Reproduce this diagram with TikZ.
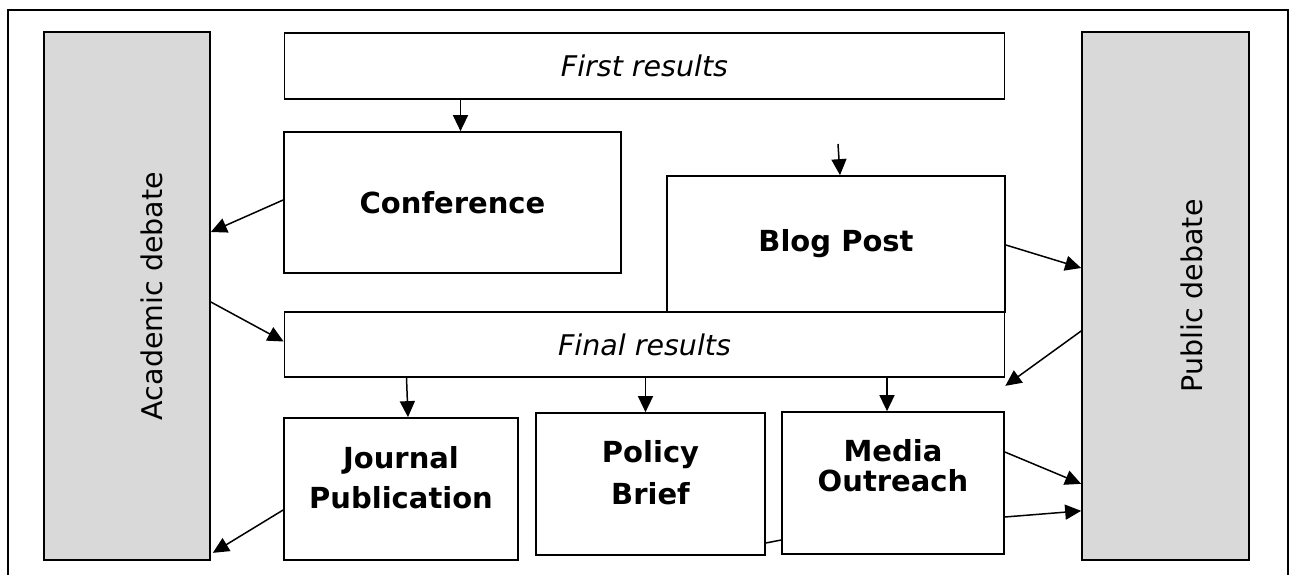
\documentclass[tikz,border=0pt]{standalone}
\usepackage{fontspec}
\setmainfont{DejaVu Sans}
\usetikzlibrary{arrows.meta}
\definecolor{debategray}{RGB}{217,217,217}

\begin{document}
\begin{tikzpicture}
      [%%%%%%%%%%%%%%%%%%%%%%%%%%%%%%
      x=1pt,y=-1pt,
      box/.style={rectangle,draw=black,line width=1.7pt,fill=white,inner sep=0pt},
      side/.style={box,fill=debategray},
      plaintxt/.style={font=\fontsize{28.5}{34}\selectfont,inner sep=0pt},
      boldtxt/.style={font=\fontsize{29}{34}\selectfont\bfseries,align=center,inner sep=0pt},
      slanttxt/.style={font=\fontsize{28.5}{34}\selectfont\itshape},
      arr/.style={line width=1.5pt,-{Triangle[length=16pt,width=15pt]}},
      ]%%%%%%%%%%%%%%%%%%%%%%%%%%%%%%
      \useasboundingbox (0,0) rectangle (1293,575);
      \draw[line width=1.6pt] (8,575) -- (8,10) -- (1288,10) -- (1288,575);

      \node[side,minimum width=166pt,minimum height=528pt] (acad) at (127,296) {};
      \node[side,minimum width=167pt,minimum height=528pt] (pub) at (1165.5,296) {};
      \node[plaintxt,rotate=90] (acadt) at ([xshift=25pt]acad.center) {Academic debate};
      \node[plaintxt,rotate=90] (pubt) at ([xshift=26pt]pub.center) {Public debate};

      \node[box,slanttxt,minimum width=720pt,minimum height=66pt] (first) at (644.5,66) {First results};
      \node[box,boldtxt,minimum width=337pt,minimum height=141pt] (conf) at (452.5,202.5) {Conference};
      \node[box,boldtxt,minimum width=338pt,minimum height=136pt] (blog) at (836,244) {Blog Post};
      \node[box,slanttxt,minimum width=720pt,minimum height=65pt] (final) at (644.5,344.5) {Final results};

      \node[box,minimum width=234pt,minimum height=142pt] (journ) at (401,489) {};
      \node[box,minimum width=229pt,minimum height=142pt] (policy) at (650.5,484) {};
      \node[box,minimum width=222pt,minimum height=142pt] (media) at (893,483) {};
      \node[boldtxt] (journt) at ([yshift=11pt]journ.center) {Journal\\[6pt]Publication};
      \node[boldtxt] (policyt) at ([yshift=11pt]policy.center) {Policy\\[8pt]Brief};
      \node[boldtxt] (mediat) at ([yshift=17.5pt]media.center) {Media\\[-4pt]Outreach};

      \coordinate (blogin) at (838,144);

      % \draw[arr] (first) -- (blog);
      \draw[arr] ([xshift=8pt]conf.north |- first.south) -- ([xshift=8pt]conf.north);
      \draw[arr] (blogin) -- ([xshift=4pt]blog.north);
      \draw[arr] ([yshift=2.5pt]conf.west) -- ([yshift=64pt]acad.east);
      \draw[arr] ([yshift=-6pt]acad.east) -- ([yshift=3pt]final.west);
      \draw[arr] ([yshift=-1pt]blog.east) -- ([yshift=28pt]pub.west);
      \draw[arr] ([yshift=-35pt]pub.west) -- ([yshift=-8pt]final.south east);
      \draw[arr] ([xshift=5.5pt]journ.north |- final.south) -- ([xshift=7pt]journ.north);
      \draw[arr] ([xshift=-5pt]policy.north |- final.south) -- ([xshift=-5pt]policy.north);
      \draw[arr] ([xshift=-6pt]media.north |- final.south) -- ([xshift=-6pt]media.north);
      \draw[arr] ([yshift=-21pt]journ.west) -- ([xshift=2pt,yshift=8pt]acad.south east);
      \draw[arr] ([yshift=31pt]media.east) -- ([yshift=77pt]pub.south west);
      \draw[arr] ([yshift=-34pt]media.east) -- ([yshift=50pt]pub.south west);
      \draw[line width=1.5pt] ([yshift=-59pt]policy.east) -- ([yshift=-57pt]media.west);
    \end{tikzpicture}
\end{document}
